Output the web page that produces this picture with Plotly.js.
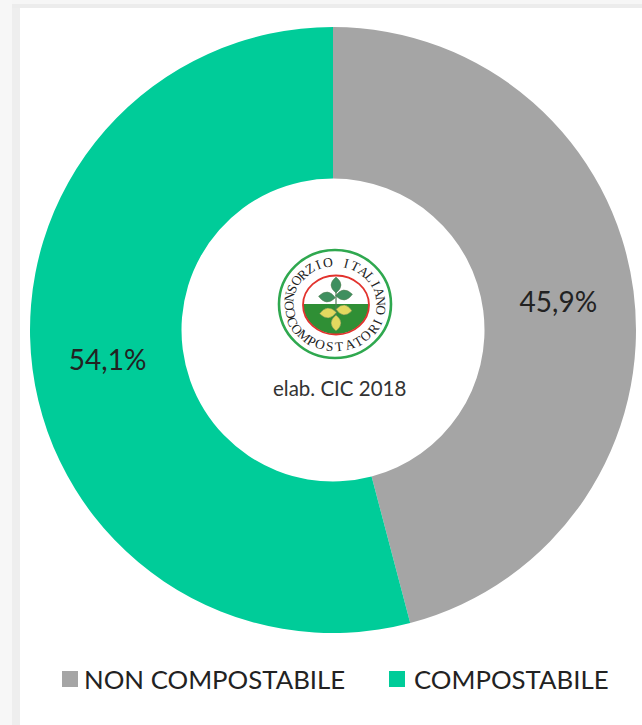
<!DOCTYPE html>
<html><head><meta charset="utf-8">
<script src="https://cdn.plot.ly/plotly-3.0.1.min.js"></script>
<style>html,body{margin:0;padding:0;background:#fff}</style></head>
<body><div id="chart" style="width:642px;height:725px"></div>
<script>
var categories = ['NON COMPOSTABILE', 'COMPOSTABILE'];
var values = [45.9, 54.1];
var colors = ['#A5A5A5', '#00CC99'];
var centerNote = 'elab. CIC 2018';
var logoTop = 'CONSORZIO ITALIANO';
var logoBottom = 'COMPOSTATORI';

var W = 642, H = 725, FONT = 'Lato, "Open Sans", sans-serif';
function fx(p){ return p / W; }
function fy(p){ return 1 - p / H; }
function box(x0, y0, x1, y1, fill){
  return {type:'rect', xref:'paper', yref:'paper', x0:fx(x0), x1:fx(x1), y0:fy(y0), y1:fy(y1),
          fillcolor:fill, line:{width:0}, layer:'below'};
}
function oval(cx, cy, rx, ry, fill, stroke, w){
  return {type:'circle', xref:'paper', yref:'paper', x0:fx(cx-rx), x1:fx(cx+rx), y0:fy(cy+ry), y1:fy(cy-ry),
          fillcolor:fill, line:{color:stroke, width:w}, layer:'above'};
}
function leaf(cx, cy, len, wid, deg, fill){
  var a = deg*Math.PI/180, c = Math.cos(a), s = Math.sin(a);
  function P(u, v){ var x = cx + u*c - v*s, y = cy + u*s + v*c; return fx(x)+','+fy(y); }
  return {type:'path', xref:'paper', yref:'paper', layer:'above', fillcolor:fill, line:{color:'#5b7f55', width:0.5},
    path:'M'+P(-len,0)+' Q'+P(0,-wid*2)+' '+P(len,0)+' Q'+P(0,wid*2)+' '+P(-len,0)+' Z'};
}
function stem(x, y0, y1){
  return {type:'line', xref:'paper', yref:'paper', layer:'above', x0:fx(x), x1:fx(x), y0:fy(y0), y1:fy(y1),
          line:{color:'#4f7f55', width:1.2}};
}
function soil(cx, cy, rx, ry, fill){
  var d = [];
  for (var i = 0; i <= 40; i++){
    var t = Math.PI * i / 40;
    d.push((i ? 'L' : 'M') + fx(cx + rx*Math.cos(t)) + ',' + fy(cy + ry*Math.sin(t)));
  }
  return {type:'path', xref:'paper', yref:'paper', layer:'above', fillcolor:fill, line:{width:0}, path:d.join(' ')+' Z'};
}
function arcText(str, cx, cy, rx, ry, startDeg, endDeg, flip){
  return str.split('').map(function(ch, i){
    var deg = startDeg + (endDeg - startDeg) * i / (str.length - 1);
    var t = deg * Math.PI / 180;
    return {xref:'paper', yref:'paper', x:fx(cx + rx*Math.sin(t)), y:fy(cy - ry*Math.cos(t)),
      text:ch, showarrow:false, textangle: flip ? deg + 180 : deg, xanchor:'center', yanchor:'middle',
      font:{family:'"Liberation Serif", serif', size:13.5, color:'#222222'}};
  });
}
function legendItem(x0, textX, i){
  return {
    shape: box(x0, 671, x0 + 16, 687, colors[i]),
    note: {xref:'paper', yref:'paper', x:fx(textX), y:fy(679), xanchor:'left', yanchor:'middle', text:categories[i],
           showarrow:false, font:{family:FONT, size:25.8, color:'#222222'}}
  };
}
var LX = 335, LY = 304;
var lg = [legendItem(62, 82, 0), legendItem(389, 412, 1)];
var shapes = [
  box(0, 0, 642, 725, '#ffffff'),
  box(0, 0, 642, 4, '#f6f6f6'), box(0, 4, 642, 8, '#ececec'),
  box(0, 0, 12, 725, '#f7f7f7'), box(12, 8, 20, 725, '#eeeeee'),
  lg[0].shape, lg[1].shape,
  oval(LX, LY, 56, 54, '#ffffff', '#2fa84f', 2.6),
  soil(LX+1, LY, 33, 30, '#2f8f35'),
  oval(LX+1, LY+1, 33, 29.5, 'rgba(0,0,0,0)', '#e2322d', 1.8),
  stem(336, 290, 318),
  leaf(336, 285, 8, 5, -90, '#3f8f5f'),
  leaf(327, 297, 8.5, 5, 5, '#3f8f5f'),
  leaf(344, 295, 8.5, 5, -5, '#3f8f5f'),
  leaf(328, 313, 8.5, 5, -5, '#e3d95f'),
  leaf(344, 310, 8, 5, 5, '#e3d95f'),
  leaf(336, 323, 8, 5, 90, '#e3d95f')
];
var annotations = [
  {xref:'paper', yref:'paper', x:fx(339), y:fy(388), text:centerNote, showarrow:false,
   font:{family:FONT, size:20.5, color:'#333333'}},
  lg[0].note, lg[1].note
].concat(arcText(logoTop, LX, LY, 46, 42, -104, 98, false))
 .concat(arcText(logoBottom, LX, LY, 47, 43, -114, -246, true));

var trace = {
  type:'pie', labels:categories, values:values, hole:0.5, sort:false, direction:'clockwise', rotation:0,
  marker:{colors:colors, line:{width:0}},
  textinfo:'percent', texttemplate:'%{percent:.1%}', textposition:'inside', insidetextorientation:'horizontal',
  textfont:{family:FONT, size:28, color:'#222222'},
  domain:{x:[fx(30), fx(636)], y:[fy(633), fy(27)]}
};
var layout = {
  width:W, height:H, margin:{l:0, r:0, t:0, b:0}, paper_bgcolor:'#ffffff', separators:',.',
  showlegend:false, shapes:shapes, annotations:annotations
};
Plotly.newPlot('chart', [trace], layout, {displayModeBar:false});
</script></body></html>
